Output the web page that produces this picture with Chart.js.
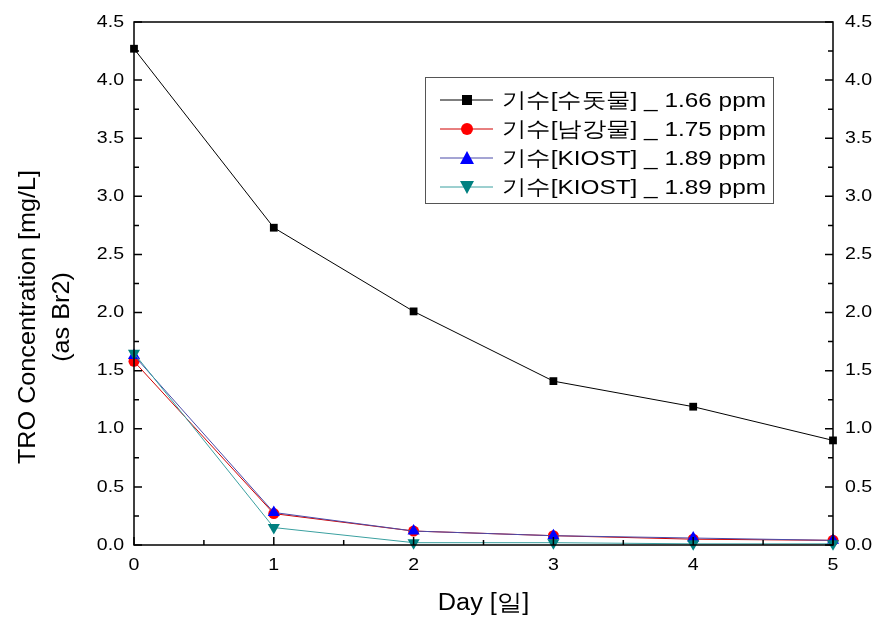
<!DOCTYPE html>
<html>
<head>
<meta charset="utf-8">
<script src="https://cdn.jsdelivr.net/npm/chart.js@4"></script>
<style>
  html, body { margin: 0; padding: 0; background: #fff; }
  #wrap { width: 885px; height: 618px; }
</style>
</head>
<body>
<div id="wrap"><canvas id="chart" width="885" height="618"></canvas></div>
<script>
const days = [0, 1, 2, 3, 4, 5]
const seriesNames = ['기수[수돗물] _ 1.66 ppm', '기수[남강물] _ 1.75 ppm', '기수[KIOST] _ 1.89 ppm', '기수[KIOST] _ 1.89 ppm']
const tapWater = [4.27, 2.73, 2.01, 1.41, 1.19, 0.90]
const namgang = [1.58, 0.27, 0.12, 0.08, 0.05, 0.04]
const kiostA = [1.63, 0.28, 0.12, 0.08, 0.06, 0.04]
const kiostB = [1.65, 0.15, 0.02, 0.02, 0.01, 0.01]
const xTicks = [0, 1, 2, 3, 4, 5]
const yTicks = [0, 0.5, 1, 1.5, 2, 2.5, 3, 3.5, 4, 4.5]

const FONT = 'Liberation Sans, Arial, sans-serif'

function pts(vals) {
    return vals.map((v, i) => ({ x: days[i], y: v }))
}

// text in the source image is a bit wider than plain Arial
function wideText(ctx, text, x, y, sx, align) {
    const w = ctx.measureText(text).width * sx
    let left = x
    if (align === 'center') left = x - w / 2
    else if (align === 'right') left = x - w
    ctx.save()
    ctx.textAlign = 'left'
    ctx.translate(left, y)
    ctx.scale(sx, 1)
    ctx.fillText(text, 0, 0)
    ctx.restore()
}

// inward ticks, tick labels, plot frame, axis titles and boxed legend
const framePlugin = {
    id: 'frame',
    afterDatasetsDraw(chart) {
        const ctx = chart.ctx
        const a = chart.chartArea
        const x = chart.scales.x
        const y = chart.scales.y
        ctx.save()
        ctx.strokeStyle = '#000'
        ctx.lineWidth = 1.5
        ctx.strokeRect(a.left, a.top, a.right - a.left, a.bottom - a.top)
        ctx.beginPath()
        for (let v = 0; v <= 5.001; v += 0.5) {
            const px = x.getPixelForValue(v)
            const len = Math.abs(v - Math.round(v)) < 0.01 ? 8 : 5
            ctx.moveTo(px, a.bottom)
            ctx.lineTo(px, a.bottom - len)
        }
        for (let v = 0; v <= 4.501; v += 0.25) {
            const py = y.getPixelForValue(v)
            const major = Math.abs(v * 2 - Math.round(v * 2)) < 0.01
            const len = major ? 8 : 5
            ctx.moveTo(a.left, py)
            ctx.lineTo(a.left + len, py)
            ctx.moveTo(a.right, py)
            ctx.lineTo(a.right - len, py)
        }
        ctx.stroke()

        // tick labels
        ctx.fillStyle = '#000'
        ctx.font = '17px ' + FONT
        ctx.textBaseline = 'middle'
        yTicks.forEach(v => {
            const py = y.getPixelForValue(v)
            wideText(ctx, v.toFixed(1), 124, py, 1.15, 'right')
            wideText(ctx, v.toFixed(1), 845, py, 1.15, 'left')
        })
        xTicks.forEach(v => {
            wideText(ctx, String(v), x.getPixelForValue(v), 565, 1.15, 'center')
        })

        // axis titles
        ctx.font = '23px ' + FONT
        wideText(ctx, 'Day [일]', (a.left + a.right) / 2, 604, 1.1, 'center')
        ctx.save()
        ctx.translate(28, 317)
        ctx.rotate(-Math.PI / 2)
        ctx.font = '24px ' + FONT
        wideText(ctx, 'TRO Concentration [mg/L]', 0, 0, 1.05, 'center')
        wideText(ctx, '(as Br2)', 0, 34, 1.05, 'center')
        ctx.restore()

        // legend
        const bx = 425, by = 77, bw = 348, bh = 126
        ctx.lineWidth = 1
        ctx.strokeStyle = '#555'
        ctx.strokeRect(bx + 0.5, by + 0.5, bw, bh)
        ctx.font = '21px ' + FONT
        chart.data.datasets.forEach((ds, i) => {
            const ry = 100 + i * 29
            ctx.strokeStyle = ds.borderColor
            ctx.lineWidth = 1
            ctx.beginPath()
            ctx.moveTo(440, ry)
            ctx.lineTo(493, ry)
            ctx.stroke()
            ctx.fillStyle = ds.pointBackgroundColor
            const mx = 467
            ctx.beginPath()
            if (ds.pointStyle === 'rect') {
                ctx.fillRect(mx - 5, ry - 5, 10, 10)
            } else if (ds.pointStyle === 'circle') {
                ctx.arc(mx, ry, 6, 0, Math.PI * 2)
                ctx.fill()
            } else if (ds.rotation === 180) {
                ctx.moveTo(mx - 7, ry - 6)
                ctx.lineTo(mx + 7, ry - 6)
                ctx.lineTo(mx, ry + 7)
                ctx.fill()
            } else {
                ctx.moveTo(mx - 7, ry + 6)
                ctx.lineTo(mx + 7, ry + 6)
                ctx.lineTo(mx, ry - 7)
                ctx.fill()
            }
            ctx.fillStyle = '#000'
            wideText(ctx, ds.label, 502, ry + 1, 1.16, 'left')
        })
        ctx.restore()
    }
}

new Chart(document.getElementById('chart'), {
    type: 'line',
    data: {
        datasets: [
            { label: seriesNames[0], data: pts(tapWater), borderColor: '#000000', pointBackgroundColor: '#000000', pointBorderColor: '#000000', pointStyle: 'rect', pointRadius: 5.5, order: 0 },
            { label: seriesNames[1], data: pts(namgang), borderColor: '#d00000', pointBackgroundColor: '#ff0000', pointBorderColor: '#ff0000', pointStyle: 'circle', pointRadius: 5.5, order: 3 },
            { label: seriesNames[2], data: pts(kiostA), borderColor: '#4a4aa8', pointBackgroundColor: '#0000ff', pointBorderColor: '#0000ff', pointStyle: 'triangle', pointRadius: 7, order: 2 },
            { label: seriesNames[3], data: pts(kiostB), borderColor: '#3aa0a0', pointBackgroundColor: '#008080', pointBorderColor: '#008080', pointStyle: 'triangle', rotation: 180, pointRadius: 7, order: 1 }
        ].map(ds => Object.assign({ borderWidth: 1, tension: 0, clip: false, pointBorderWidth: 0 }, ds))
    },
    options: {
        responsive: false,
        animation: false,
        layout: { padding: { top: 22, left: 0, right: 0, bottom: 0 } },
        plugins: { legend: { display: false }, tooltip: { enabled: false } },
        scales: {
            x: {
                type: 'linear', min: 0, max: 5,
                afterFit: s => { s.height = 73 },
                grid: { display: false, drawTicks: false },
                border: { display: false },
                ticks: { display: false, stepSize: 1 }
            },
            y: {
                min: 0, max: 4.5,
                afterFit: s => { s.width = 134 },
                grid: { display: false, drawTicks: false },
                border: { display: false },
                ticks: { display: false, stepSize: 0.5 }
            },
            y2: {
                position: 'right', min: 0, max: 4.5,
                afterFit: s => { s.width = 52 },
                grid: { display: false, drawTicks: false },
                border: { display: false },
                ticks: { display: false, stepSize: 0.5 }
            }
        }
    },
    plugins: [framePlugin]
})
</script>
</body>
</html>
